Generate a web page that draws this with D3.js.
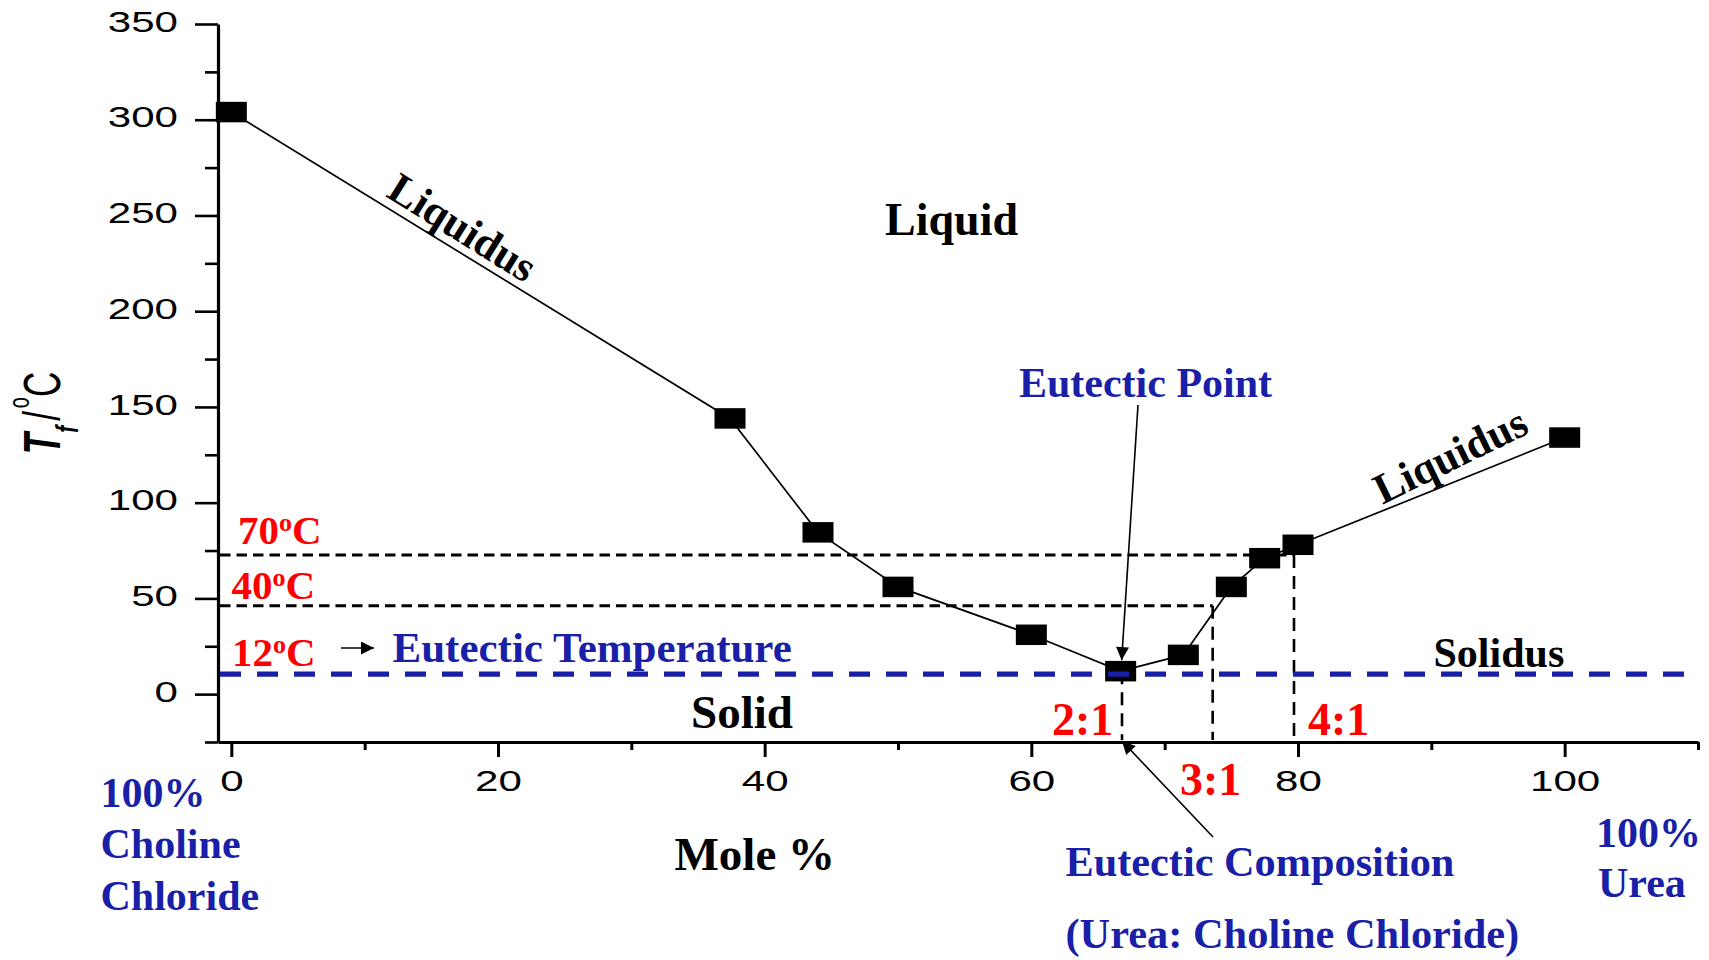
<!DOCTYPE html>
<html>
<head>
<meta charset="utf-8">
<script src="https://cdn.jsdelivr.net/npm/d3@7"></script>
<style>
  body { margin: 0; background: #fff; }
  svg { display: block; }
  .serif { font-family: "Liberation Serif", "Times New Roman", serif; font-weight: bold; }
  .axis text { font-family: "Liberation Sans", Arial, sans-serif; font-size: 29px; fill: #000; }
  .axis path, .axis line { stroke: #000; }
</style>
</head>
<body>
<div id="chart"></div>
<script>
(function() {
  // mole % urea vs freezing temperature (degC)
  var molePct = [0, 37.4, 44, 50, 60, 66.7, 71.4, 75, 77.5, 80, 100];
  var tempC   = [304, 144, 84.5, 56, 31, 12, 20.5, 56, 71, 78, 134];

  // guide lines
  var eutecticTemp = 10.5;
  var guideTemps = [72.7, 46.2];          // drawn for the 70 and 40 degC labels
  var tempLabels = ["70", "40", "12"];
  var ratioPcts = [66.8, 73.6, 79.7];     // 2:1, 3:1, 4:1 compositions
  var ratioLabels = ["2:1", "3:1", "4:1"];

  var xTicks = [0, 20, 40, 60, 80, 100];
  var xMinor = [10, 30, 50, 70, 90, 110];
  var yTicks = [0, 50, 100, 150, 200, 250, 300, 350];
  var yMinor = [-25, 25, 75, 125, 175, 225, 275, 325];

  var width = 1709,
      height = 960,
      blue = "#1a1fa8",
      red = "#ff0000";

  var x = d3.scaleLinear().domain([-1, 110]).range([218, 1698]);
  var y = d3.scaleLinear().domain([-25, 350]).range([742, 24]);

  var svg = d3.select("#chart")
      .append("svg")
      .attr("width", width)
      .attr("height", height);

  var defs = svg.append("defs");
  defs.append("marker")
      .attr("id", "head")
      .attr("viewBox", "0 0 10 10")
      .attr("refX", 10).attr("refY", 5)
      .attr("markerUnits", "userSpaceOnUse")
      .attr("markerWidth", 16).attr("markerHeight", 13)
      .attr("orient", "auto")
      .append("path")
      .attr("d", "M0,0L10,5L0,10z")
      .attr("fill", "#000");

  // stretch the sans tick labels sideways like the original
  var widen = function(sel) {
    sel.selectAll("text").each(function() {
      var w = this.getComputedTextLength();
      d3.select(this).attr("textLength", w * 1.45).attr("lengthAdjust", "spacingAndGlyphs");
    });
  };

  // y axis
  var gy = svg.append("g").attr("class", "axis")
      .attr("transform", "translate(" + x(-1) + ",0)");
  gy.call(d3.axisLeft(y).tickValues(yTicks).tickSize(23).tickSizeOuter(0).tickPadding(17));
  gy.selectAll("text").attr("dy", "0.25em");
  gy.selectAll("line").attr("stroke-width", 2.6);
  gy.select(".domain").attr("stroke-width", 3.2);
  widen(gy);
  svg.append("g").attr("class", "axis")
      .attr("transform", "translate(" + x(-1) + ",0)")
      .call(d3.axisLeft(y).tickValues(yMinor).tickSize(13).tickFormat(""))
      .call(function(g) { g.select(".domain").remove(); g.selectAll("line").attr("stroke-width", 2.6); });

  // x axis
  var gx = svg.append("g").attr("class", "axis")
      .attr("transform", "translate(0," + y(-25) + ")");
  gx.call(d3.axisBottom(x).tickValues(xTicks).tickSize(15).tickSizeOuter(0).tickPadding(13));
  gx.selectAll("line").attr("stroke-width", 3);
  gx.select(".domain").attr("stroke-width", 3);
  widen(gx);
  svg.append("g").attr("class", "axis")
      .attr("transform", "translate(0," + y(-25) + ")")
      .call(d3.axisBottom(x).tickValues(xMinor).tickSize(8).tickFormat(""))
      .call(function(g) { g.select(".domain").remove(); g.selectAll("line").attr("stroke-width", 3); });

  // dashed guides: horizontal temperature level then drop to the axis
  var guides = [
    {t: guideTemps[0], p: ratioPcts[2], h: true},
    {t: guideTemps[1], p: ratioPcts[1], h: true},
    {t: tempC[5],      p: ratioPcts[0], h: false}
  ];
  var gg = svg.append("g").attr("fill", "none").attr("stroke", "#000");
  guides.forEach(function(d) {
    if (d.h) {
      gg.append("line")
        .attr("x1", x(-1) + 2).attr("x2", x(d.p))
        .attr("y1", y(d.t)).attr("y2", y(d.t))
        .attr("stroke-width", 3)
        .attr("stroke-dasharray", "10.5,6");
    }
    gg.append("line")
      .attr("x1", x(d.p)).attr("x2", x(d.p))
      .attr("y1", y(d.t)).attr("y2", y(-25) - 2)
      .attr("stroke-width", 2.6)
      .attr("stroke-dasharray", "13,8");
  });

  // liquidus curve
  var pts = d3.zip(molePct, tempC);
  svg.append("path")
      .datum(pts)
      .attr("fill", "none")
      .attr("stroke", "#000")
      .attr("stroke-width", 1.7)
      .attr("d", d3.line().x(function(d) { return x(d[0]); }).y(function(d) { return y(d[1]); }));

  svg.selectAll(".pt")
      .data(pts)
      .enter()
      .append("rect")
      .attr("class", "pt")
      .attr("x", function(d) { return x(d[0]) - 15.5; })
      .attr("y", function(d) { return y(d[1]) - 10.25; })
      .attr("width", 31)
      .attr("height", 20.5)
      .attr("fill", "#000");

  // eutectic temperature (solidus)
  svg.append("line")
      .attr("x1", x(-1) + 2).attr("x2", x(110) - 3)
      .attr("y1", y(eutecticTemp)).attr("y2", y(eutecticTemp))
      .attr("stroke", blue)
      .attr("stroke-width", 5.2)
      .attr("stroke-dasharray", "21,16");

  // arrows
  var arrow = function(x1, y1, x2, y2) {
    svg.append("line")
      .attr("x1", x1).attr("y1", y1).attr("x2", x2).attr("y2", y2)
      .attr("stroke", "#000").attr("stroke-width", 1.6)
      .attr("marker-end", "url(#head)");
  };
  arrow(1138, 405, x(molePct[5]) + 1, y(tempC[5]) - 11);
  arrow(1213, 837, x(ratioPcts[0]), y(-25) - 1);
  arrow(341, 648, 374, 648);

  // text helpers
  var label = function(tx, ty, str, size, color, anchor) {
    return svg.append("text")
      .attr("class", "serif")
      .attr("x", tx).attr("y", ty)
      .attr("font-size", size)
      .attr("fill", color)
      .attr("text-anchor", anchor || "start")
      .text(str);
  };

  label(951.5, 235, "Liquid", 46, "#000", "middle");
  svg.append("text").attr("class", "serif")
      .attr("transform", "translate(463,227) rotate(32)")
      .attr("text-anchor", "middle").attr("dy", "0.35em")
      .attr("font-size", 43).text("Liquidus");
  svg.append("text").attr("class", "serif")
      .attr("transform", "translate(1450,455) rotate(-26)")
      .attr("text-anchor", "middle").attr("dy", "0.35em")
      .attr("font-size", 43).text("Liquidus");

  label(1145.5, 397, "Eutectic Point", 42, blue, "middle");

  var tempPos = [[238, 543.5], [231.5, 599], [232, 666]];
  tempLabels.forEach(function(t, i) {
    var el = label(tempPos[i][0], tempPos[i][1], t, 41, red);
    el.append("tspan").attr("font-size", 26).attr("dy", -13).text("o");
    el.append("tspan").attr("dy", 13).text("C");
  });

  label(392.5, 662, "Eutectic Temperature", 43, blue);
  label(742, 728, "Solid", 47, "#000", "middle");
  label(1433.5, 667, "Solidus", 42, "#000");

  var ratioPos = [[1052, 734.5], [1180, 795], [1308, 734.5]];
  ratioLabels.forEach(function(t, i) {
    label(ratioPos[i][0], ratioPos[i][1], t, 46, red);
  });

  label(1065.5, 876, "Eutectic Composition", 42.3, blue);
  label(1065.5, 948, "(Urea: Choline Chloride)", 42.4, blue);
  label(1596, 847, "100%", 42, blue);
  label(1598, 897, "Urea", 42, blue);
  label(100.5, 807, "100%", 42, blue);
  label(100.5, 858, "Choline", 42, blue);
  label(100.5, 910, "Chloride", 42, blue);
  label(674.5, 870, "Mole %", 47, "#000");

  // y axis title: T_f / degC, glyphs stretched across the axis like the source
  var yt = svg.append("text")
      .attr("transform", "translate(60,413) rotate(-90) scale(1,1.5)")
      .attr("text-anchor", "middle")
      .attr("font-family", "'Liberation Sans', Arial, sans-serif")
      .attr("font-size", 35)
      .attr("fill", "#000");
  yt.append("tspan").attr("font-weight", "bold").attr("font-style", "italic").text("T");
  yt.append("tspan").attr("font-style", "italic").attr("font-weight", "bold")
      .attr("font-size", 21).attr("dy", 12).text("f");
  yt.append("tspan").attr("dy", -12).attr("dx", 5).text("/");
  yt.append("tspan").attr("font-size", 20).attr("dy", -21).attr("dx", 3).text("o");
  yt.append("tspan").attr("dy", 21).text("C");
})();
</script>
</body>
</html>
